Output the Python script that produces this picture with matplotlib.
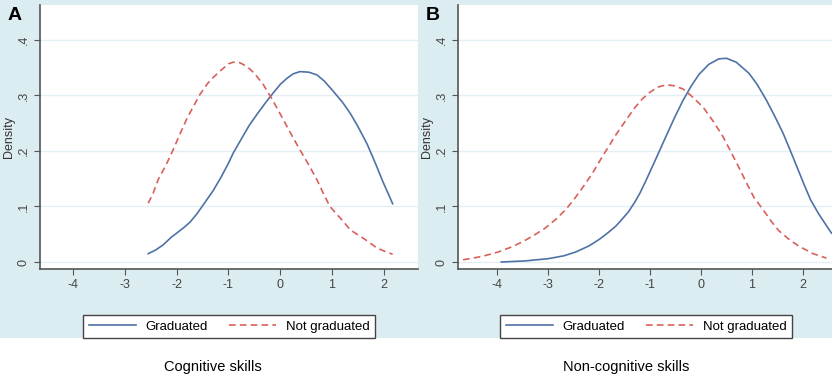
import matplotlib
matplotlib.use("Agg")
import matplotlib.pyplot as plt
from matplotlib.patches import Rectangle

plt.rcParams['font.family'] = ['Liberation Sans', 'DejaVu Sans']

# panel A: cognitive skills
a_grad_x = [-2.55, -2.4, -2.26, -2.1, -2.0, -1.85, -1.74, -1.6, -1.45, -1.3, -1.16, -1.0, -0.91, -0.75, -0.6, -0.45, -0.3, -0.15, 0.0, 0.13, 0.25, 0.38, 0.55, 0.71, 0.85, 1.02, 1.2, 1.35, 1.5, 1.68, 1.85, 1.98, 2.1, 2.17]
a_grad_y = [0.015, 0.022, 0.031, 0.045, 0.052, 0.063, 0.072, 0.088, 0.108, 0.128, 0.150, 0.178, 0.196, 0.222, 0.246, 0.266, 0.285, 0.303, 0.320, 0.331, 0.339, 0.343, 0.342, 0.337, 0.326, 0.308, 0.288, 0.268, 0.244, 0.212, 0.175, 0.145, 0.120, 0.105]
a_not_x = [-2.55, -2.45, -2.36, -2.2, -2.07, -1.93, -1.8, -1.65, -1.55, -1.4, -1.3, -1.15, -1.0, -0.91, -0.78, -0.64, -0.5, -0.33, -0.15, 0.05, 0.2, 0.38, 0.55, 0.71, 0.86, 0.96, 1.1, 1.2, 1.35, 1.5, 1.68, 1.87, 2.0, 2.17]
a_not_y = [0.106, 0.125, 0.148, 0.176, 0.202, 0.232, 0.259, 0.285, 0.302, 0.322, 0.332, 0.345, 0.357, 0.360, 0.359, 0.352, 0.340, 0.320, 0.292, 0.258, 0.232, 0.202, 0.175, 0.148, 0.118, 0.100, 0.085, 0.075, 0.058, 0.049, 0.038, 0.025, 0.020, 0.014]

# panel B: non-cognitive skills
b_grad_x = [-3.92, -3.45, -3.0, -2.7, -2.46, -2.2, -2.01, -1.85, -1.68, -1.55, -1.42, -1.3, -1.2, -1.09, -0.9, -0.69, -0.5, -0.36, -0.2, -0.04, 0.15, 0.35, 0.5, 0.69, 0.94, 1.1, 1.28, 1.45, 1.61, 1.8, 2.02, 2.15, 2.3, 2.45, 2.56]
b_grad_y = [0.000, 0.002, 0.006, 0.011, 0.018, 0.029, 0.040, 0.051, 0.064, 0.077, 0.091, 0.108, 0.124, 0.145, 0.183, 0.226, 0.264, 0.290, 0.316, 0.338, 0.356, 0.366, 0.367, 0.360, 0.340, 0.320, 0.292, 0.262, 0.232, 0.190, 0.140, 0.112, 0.088, 0.067, 0.052]
b_not_x = [-4.67, -4.3, -3.98, -3.75, -3.51, -3.3, -3.06, -2.85, -2.66, -2.5, -2.31, -2.13, -1.95, -1.8, -1.68, -1.5, -1.3, -1.15, -1.0, -0.85, -0.69, -0.55, -0.36, -0.2, 0.04, 0.25, 0.43, 0.6, 0.74, 0.9, 1.04, 1.22, 1.38, 1.53, 1.75, 1.93, 2.2, 2.46]
b_not_y = [0.004, 0.010, 0.018, 0.026, 0.036, 0.047, 0.061, 0.077, 0.094, 0.112, 0.136, 0.160, 0.188, 0.210, 0.228, 0.252, 0.278, 0.294, 0.306, 0.315, 0.319, 0.318, 0.312, 0.300, 0.279, 0.252, 0.226, 0.196, 0.171, 0.141, 0.116, 0.094, 0.073, 0.056, 0.039, 0.028, 0.015, 0.007]

xticks = [-4, -3, -2, -1, 0, 1, 2]
yticks = [0, 0.1, 0.2, 0.3, 0.4]
ytick_labels = ['0', '.1', '.2', '.3', '.4']

W, H = 832, 377
fig = plt.figure(figsize=(W / 100, H / 100), dpi=100)
bg = '#dcedf1'
fig.patches.append(Rectangle((0, (H - 338) / H), 1, 338 / H, transform=fig.transFigure,
                             facecolor=bg, edgecolor='none', zorder=-10))

blue = '#4f72a6'
red = '#d9605a'


def panel(left, right, xlim, gx, gy, nx, ny, letter, title, leg_cx, title_cx):
    ax = fig.add_axes([left / W, (H - 269) / H, (right - left) / W, (269 - 5) / H])
    ax.set_facecolor('white')
    for y in yticks:
        ax.axhline(y, color='#e3eff3', lw=1.0, zorder=0)
    ax.plot(gx, gy, color=blue, lw=1.2, label='Graduated')
    ax.plot(nx, ny, color=red, lw=1.2, ls=(0, (4, 2.5)), label='Not graduated')
    ax.set_xlim(*xlim)
    ax.set_ylim(-0.0126, 0.463)
    ax.set_xticks(xticks)
    ax.set_xticklabels([str(t) for t in xticks])
    ax.set_yticks(yticks)
    ax.set_yticklabels(ytick_labels, rotation=90, va='center')
    for s in ['top', 'right']:
        ax.spines[s].set_visible(False)
    for s in ['left', 'bottom']:
        ax.spines[s].set_color('#555555')
        ax.spines[s].set_linewidth(1.2)
    ax.tick_params(colors='#555555', labelcolor='#444444', labelsize=9, length=4, width=0.8)
    ax.set_ylabel('Density', fontsize=9, color='#333333', labelpad=2)
    fig.text((left - 32) / W, 1 - 15 / H, letter, fontsize=14, fontweight='bold',
             ha='left', va='center')
    leg = ax.legend(loc='upper center', bbox_to_anchor=(leg_cx / W, 1 - 315 / H),
                    bbox_transform=fig.transFigure, ncol=2, fontsize=9.5, frameon=True,
                    fancybox=False, edgecolor='#444444', handlelength=3.6,
                    handletextpad=0.7, columnspacing=1.6, borderpad=0.4,
                    borderaxespad=0, framealpha=1)
    leg.get_frame().set_linewidth(1.0)
    fig.text(title_cx / W, 1 - 367 / H, title, fontsize=10.5, ha='center', va='center')
    return ax


panel(40, 418, (-4.64, 2.66), a_grad_x, a_grad_y, a_not_x, a_not_y, 'A',
      'Cognitive skills', 229, 213)
panel(458, 832, (-4.77, 2.57), b_grad_x, b_grad_y, b_not_x, b_not_y, 'B',
      'Non-cognitive skills', 646, 626)

fig.savefig('out.png', dpi=100)
